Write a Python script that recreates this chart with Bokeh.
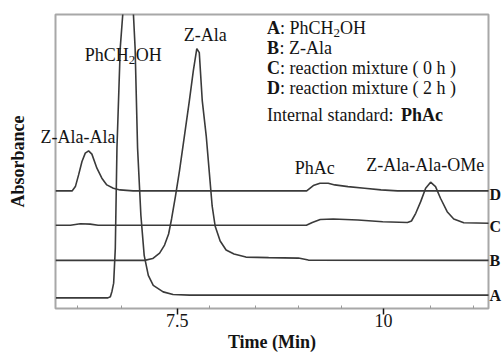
from bokeh.plotting import figure
from bokeh.models import Range1d, FixedTicker, LinearAxis, CustomJSTickFormatter
from bokeh.core.properties import value
from bokeh.embed import file_html
from bokeh.resources import INLINE

# ---- Chromatogram data: retention time (min) vs absorbance (arbitrary units, traces offset) ----
time_A = [6.03, 6.66, 6.69, 6.71, 6.73, 6.75, 6.77, 6.81, 6.84, 6.86, 6.96, 6.97, 6.99,
          7.02, 7.06, 7.10, 7.15, 7.21, 7.33, 7.45, 7.65, 11.3]
abs_A = [10.6, 10.6, 11.8, 17.3, 25.3, 60, 160, 260, 293, 330, 330, 293, 260,
         160, 93, 53, 33, 23, 16.6, 14, 13.3, 13.3]

time_B = [6.025, 7.107, 7.203, 7.287, 7.347, 7.396, 7.432, 7.480, 7.528, 7.588, 7.648, 7.696,
          7.738, 7.768, 7.804, 7.852, 7.888, 7.924, 7.960, 8.021, 8.093, 8.189, 8.333, 8.609,
          8.970, 9.090, 11.3]
abs_B = [48, 48, 49.8, 55.3, 63.3, 74.3, 89.3, 112.3, 137.3, 172.3, 207.3, 237.3,
         259.3, 255.3, 207.3, 172.3, 137.3, 102.3, 82.3, 67.3, 58.3, 54.3, 51.3, 50.8,
         50.3, 48.3, 48]

time_C = [6.025, 6.206, 6.326, 6.446, 6.542, 9.066, 9.138, 9.234, 9.391, 9.691, 9.992,
          10.292, 10.340, 10.392, 10.452, 10.512, 10.572, 10.632, 10.692, 10.773, 10.853,
          10.974, 11.3]
abs_C = [83, 83, 84.5, 84.2, 83, 83, 85.8, 88.8, 89.3, 88.3, 86.6,
         85.8, 87.3, 95, 106.6, 120, 126, 121.6, 110, 96.6, 89.3,
         85.6, 85]

time_D = [6.025, 6.226, 6.266, 6.305, 6.346, 6.386, 6.426, 6.466, 6.527, 6.587, 6.647, 6.726,
          6.807, 6.966, 9.070, 9.150, 9.231, 9.331, 9.411, 9.571, 9.772, 9.971, 10.172, 11.3]
abs_D = [117.3, 117.3, 121.6, 133.3, 146.6, 155, 157.3, 154, 140, 130, 123.3, 120,
         118.3, 117.3, 117.3, 122.6, 125, 125, 123.3, 121.6, 120, 118.3, 117.3, 117.3]

trace_names = ["A", "B", "C", "D"]
trace_label_levels = [13, 48, 82, 114]
left_peak_name = ["Z-Ala-Ala"]
left_peak_level = [170.6]
x_major_ticks = [7.5, 10]
x_minor_ticks = [6.29, 6.83, 7.89, 8.45, 8.97, 9.49, 10.57, 11.09]

FONT = "Liberation Serif"
FS = "18px"
SUB = "13px"
INK = "#141414"
LINE = "#3a3a3a"

p = figure(width=504, height=354, output_backend="svg", toolbar_location=None,
           x_range=Range1d(6.025, 11.274), y_range=Range1d(0, 293.3),
           min_border_left=55, min_border_right=12, min_border_top=14, min_border_bottom=46)
p.background_fill_color = "white"
p.border_fill_color = "white"
p.grid.visible = False
p.outline_line_color = "#a8a8a8"
p.outline_line_width = 2

# bottom axis: retention time
xa = p.xaxis[0]
xa.ticker = FixedTicker(ticks=x_major_ticks, minor_ticks=x_minor_ticks)
xa.axis_line_color = None
xa.major_tick_in = 0
xa.major_tick_out = 6
xa.major_tick_line_color = INK
xa.major_tick_line_width = 1.5
xa.minor_tick_in = 3
xa.minor_tick_out = 0
xa.minor_tick_line_color = "#9a9a9a"
xa.major_label_text_font = FONT
xa.major_label_text_font_size = FS
xa.major_label_text_color = INK
xa.major_label_standoff = -1
xa.axis_label = "Time (Min)"
xa.axis_label_text_font = FONT
xa.axis_label_text_font_size = FS
xa.axis_label_text_font_style = "bold"
xa.axis_label_text_color = INK
xa.axis_label_standoff = 2

# left axis: "Absorbance" title; its single tick label carries the first peak name
ya = p.yaxis[0]
ya.ticker = FixedTicker(ticks=left_peak_level)
ya.formatter = CustomJSTickFormatter(args=dict(names=left_peak_name), code="return names[index]")
ya.axis_line_color = None
ya.major_tick_in = 0
ya.major_tick_out = 0
ya.minor_tick_in = 0
ya.minor_tick_out = 0
ya.major_label_standoff = -60
ya.major_label_text_font = FONT
ya.major_label_text_font_size = FS
ya.major_label_text_color = INK
ya.axis_label = "Absorbance"
ya.axis_label_text_font = FONT
ya.axis_label_text_font_size = FS
ya.axis_label_text_font_style = "bold"
ya.axis_label_text_color = INK
ya.axis_label_standoff = 10

# right axis: trace names at their baselines
ra = LinearAxis(ticker=FixedTicker(ticks=trace_label_levels),
                formatter=CustomJSTickFormatter(args=dict(names=trace_names),
                                                code="return names[index]"))
ra.axis_line_color = None
ra.major_tick_in = 0
ra.major_tick_out = 0
ra.minor_tick_in = 0
ra.minor_tick_out = 0
ra.major_label_standoff = 1
ra.major_label_text_font = FONT
ra.major_label_text_font_size = "16px"
ra.major_label_text_font_style = "bold"
ra.major_label_text_color = INK
p.add_layout(ra, "right")

for t, a in [(time_A, abs_A), (time_B, abs_B), (time_C, abs_C), (time_D, abs_D)]:
    p.line(t, a, line_color=LINE, line_width=1.6)


def txt(x, y, s, size=FS, bold=False, align="left", xoff=0):
    p.text(x=[x], y=[y], text=[s], x_offset=xoff,
           text_font=value(FONT), text_font_size=value(size),
           text_font_style="bold" if bold else "normal",
           text_color=INK, text_align=align, text_baseline="middle")


# peak labels
txt(7.840, 272.6, "Z-Ala", align="center")
txt(9.168, 140, "PhAc", align="center")
txt(10.508, 143.3, "Z-Ala-Ala-OMe", align="center")
txt(6.380, 253.3, "PhCH")
txt(6.380, 248.3, "2", size=SUB, xoff=44)
txt(6.380, 253.3, "OH", xoff=51)

# legend block
lx = 8.589
txt(lx, 280, "A", bold=True)
txt(lx, 280, ": PhCH", xoff=13)
txt(lx, 275, "2", size=SUB, xoff=66.5)
txt(lx, 280, "OH", xoff=73)
txt(lx, 260, "B", bold=True)
txt(lx, 260, ": Z-Ala", xoff=12.5)
txt(lx, 240, "C", bold=True)
txt(lx, 240, ": reaction mixture ( 0 h )", xoff=13)
txt(lx, 220, "D", bold=True)
txt(lx, 220, ": reaction mixture ( 2 h )", xoff=13)
txt(lx, 193.3, "Internal standard:")
txt(lx, 193.3, "PhAc", bold=True, xoff=134)

open("out.html", "w").write(file_html(p, INLINE))
